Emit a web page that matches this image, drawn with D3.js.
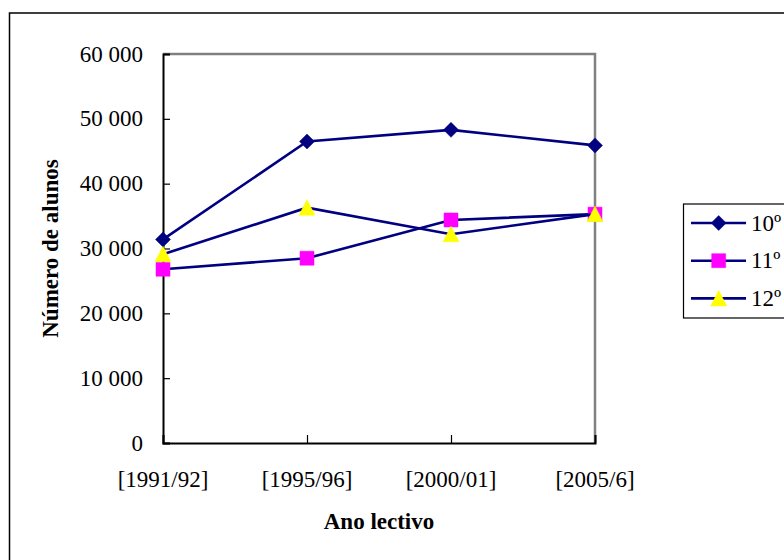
<!DOCTYPE html>
<html>
<head>
<meta charset="utf-8">
<script src="https://cdn.jsdelivr.net/npm/d3@7"></script>
<style>
  html, body { margin: 0; padding: 0; background: #fff; }
  svg { display: block; }
</style>
</head>
<body>
<svg id="chart" width="784" height="560" font-family="'Liberation Serif', 'Times New Roman', 'DejaVu Serif', serif"></svg>
<script>
// Students enrolled in secondary education, by school year and grade
const categories = ["[1991/92]", "[1995/96]", "[2000/01]", "[2005/6]"];
const seriesNames = ["10º", "11º", "12º"];
const values10 = [31400, 46500, 48300, 45900];
const values11 = [26800, 28500, 34400, 35300];
const values12 = [29100, 36300, 32200, 35300];
const yTicks = [0, 10000, 20000, 30000, 40000, 50000, 60000];

const series = [
  { name: seriesNames[0], values: values10, marker: "diamond", fill: "#000080" },
  { name: seriesNames[1], values: values11, marker: "square", fill: "#ff00ff" },
  { name: seriesNames[2], values: values12, marker: "triangle", fill: "#ffff00" }
];

const svg = d3.select("#chart");
const serif = "'Liberation Serif', 'Times New Roman', 'DejaVu Serif', serif";
const plot = { left: 163, right: 595, top: 54, bottom: 443 };
const fontSize = 23;

const x = d3.scalePoint().domain(categories).range([plot.left, plot.right]);
const y = d3.scaleLinear().domain([0, 60000]).range([plot.bottom, plot.top]);

// Outer chart frame (continues past the right and bottom edges)
svg.append("rect")
  .attr("x", 9.5).attr("y", 13)
  .attr("width", 900).attr("height", 700)
  .attr("fill", "none").attr("stroke", "#000").attr("stroke-width", 1.5);

// Plot area: grey top/right edges
svg.append("path")
  .attr("d", `M${plot.left},${plot.top}H${plot.right}V${plot.bottom}`)
  .attr("fill", "none").attr("stroke", "#808080").attr("stroke-width", 2.5);

// Y axis with ticks pointing into the plot
const fmt = v => d3.format(",")(v).replace(/,/g, " ");
const yAxis = d3.axisRight(y).tickValues(yTicks).tickSize(7).tickFormat("");
const gy = svg.append("g").attr("transform", `translate(${plot.left},0)`).call(yAxis);
gy.select(".domain").attr("stroke", "#000").attr("stroke-width", 2);
gy.selectAll(".tick line").attr("stroke", "#000").attr("stroke-width", 1.2);
svg.append("g").selectAll("text").data(yTicks).join("text")
  .attr("x", 143).attr("y", d => y(d) + fontSize * 0.33)
  .attr("text-anchor", "end").attr("font-size", fontSize)
  .attr("font-family", serif).attr("fill", "#000")
  .text(fmt);

// X axis with ticks pointing into the plot
const xAxis = d3.axisTop(x).tickSize(8).tickFormat("");
const gx = svg.append("g").attr("transform", `translate(0,${plot.bottom})`).call(xAxis);
gx.select(".domain").attr("stroke", "#000").attr("stroke-width", 2);
gx.selectAll(".tick line").attr("stroke", "#000").attr("stroke-width", 1.2);
svg.append("g").selectAll("text").data(categories).join("text")
  .attr("x", d => x(d)).attr("y", 487)
  .attr("text-anchor", "middle").attr("font-size", fontSize)
  .attr("font-family", serif).attr("fill", "#000")
  .text(d => d);

// Axis titles
svg.append("text")
  .attr("x", (plot.left + plot.right) / 2).attr("y", 529)
  .attr("text-anchor", "middle").attr("font-size", fontSize).attr("font-weight", "bold")
  .attr("font-family", serif).attr("fill", "#000")
  .text("Ano lectivo");
svg.append("text")
  .attr("transform", `translate(58,${(plot.top + plot.bottom) / 2}) rotate(-90)`)
  .attr("text-anchor", "middle").attr("font-size", fontSize).attr("font-weight", "bold")
  .attr("font-family", serif).attr("fill", "#000")
  .text("Número de alunos");

// Marker shapes centred on their data point
function markerPath(kind) {
  if (kind === "diamond") return "M0,-7.5L7.5,0L0,7.5L-7.5,0Z";
  if (kind === "square") return "M-7,-7H7V7H-7Z";
  return "M0,-8L8,7.5L-8,7.5Z";
}

const line = d3.line().x((d, i) => x(categories[i])).y(d => y(d));

series.forEach(s => {
  const g = svg.append("g");
  g.append("path")
    .attr("d", line(s.values))
    .attr("fill", "none").attr("stroke", "#000080").attr("stroke-width", 2.6);
  g.selectAll("path.m").data(s.values).join("path")
    .attr("class", "m")
    .attr("transform", (d, i) => `translate(${x(categories[i])},${y(d)})`)
    .attr("d", markerPath(s.marker))
    .attr("fill", s.fill).attr("stroke", s.fill).attr("stroke-width", 0.5);
});

// Legend
const legend = svg.append("g");
legend.append("rect")
  .attr("x", 683.5).attr("y", 204)
  .attr("width", 200).attr("height", 114)
  .attr("fill", "#fff").attr("stroke", "#000").attr("stroke-width", 1.2);
series.forEach((s, i) => {
  const ly = 223 + i * 37.7;
  legend.append("line")
    .attr("x1", 691).attr("x2", 746).attr("y1", ly).attr("y2", ly)
    .attr("stroke", "#000080").attr("stroke-width", 2.6);
  legend.append("path")
    .attr("transform", `translate(718.7,${ly})`)
    .attr("d", markerPath(s.marker))
    .attr("fill", s.fill).attr("stroke", s.fill).attr("stroke-width", 0.5);
  legend.append("text")
    .attr("x", 751).attr("y", ly + fontSize * 0.33)
    .attr("font-size", fontSize)
    .attr("font-family", serif).attr("fill", "#000")
    .text(s.name);
});
</script>
</body>
</html>
